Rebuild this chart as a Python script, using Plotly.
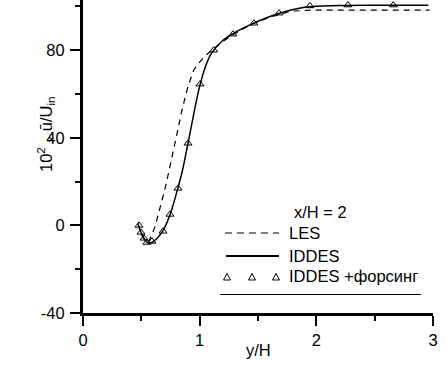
import plotly.graph_objects as go

# ---- data ----
les_x = [0.50, 0.53, 0.56, 0.59, 0.62, 0.66, 0.70, 0.75, 0.80, 0.85, 0.90, 0.95,
         1.00, 1.05, 1.10, 1.20, 1.30, 1.45, 1.60, 1.78, 1.97, 2.50, 2.97]
les_v = [-4.0, -7.0, -7.5, -4.5, 0.0, 7.5, 16.0, 28.0, 41.0, 53.0, 63.5, 71.0,
         74.5, 77.5, 79.8, 84.0, 87.5, 92.0, 95.0, 97.8, 98.3, 98.3, 98.3]

iddes_x = [0.47, 0.50, 0.53, 0.56, 0.60, 0.65, 0.70, 0.75, 0.80, 0.85, 0.90, 0.95,
           1.00, 1.05, 1.10, 1.20, 1.30, 1.45, 1.65, 1.90, 2.20, 2.60, 2.96]
iddes_v = [1.0, -3.5, -6.5, -8.0, -7.5, -5.0, -1.0, 5.5, 14.5, 24.5, 37.5, 51.0,
           63.5, 72.5, 78.5, 84.5, 88.0, 92.0, 96.3, 99.6, 100.4, 100.5, 100.5]

forc_x = [0.48, 0.497, 0.523, 0.548, 0.591, 0.686, 0.745, 0.814, 0.90, 1.003,
          1.12, 1.285, 1.465, 1.68, 1.945, 2.27, 2.66]
forc_v = [0.0, -3.2, -5.9, -7.8, -7.3, -2.7, 5.0, 16.9, 37.5, 64.5,
          80.0, 87.3, 92.3, 96.9, 100.2, 100.6, 100.6]

x_ticks = [0, 1, 2, 3]
y_ticks = [-40, 0, 40, 80]

FONT = "Liberation Sans, Arial, sans-serif"
FS = 16.5

# plot area in pixels
L, R, T, B = 83, 13, 0, 65
W, H = 446, 378
PW, PH = W - L - R, H - T - B


def px(x):
    return (x - L) / PW


def py(y):
    return (H - B - y) / PH


fig = go.Figure()
fig.add_trace(go.Scatter(x=les_x, y=les_v, mode="lines",
                         line=dict(color="black", width=1.2, dash="6px,5px"),
                         showlegend=False, name="LES"))
fig.add_trace(go.Scatter(x=iddes_x, y=iddes_v, mode="lines", line_shape="spline",
                         line=dict(color="black", width=1.5),
                         showlegend=False, name="IDDES"))
fig.add_trace(go.Scatter(x=forc_x, y=forc_v, mode="markers",
                         marker=dict(symbol="triangle-up-open", size=7,
                                     color="black", line=dict(width=1, color="black")),
                         cliponaxis=False, showlegend=False, name="IDDES +форсинг"))

shapes = []
annotations = []


def txt(s, x, y, anchor="left", angle=0, size=FS):
    annotations.append(dict(text=s, x=px(x), y=py(y), xref="paper", yref="paper",
                            showarrow=False, xanchor=anchor, yanchor="middle",
                            textangle=angle,
                            font=dict(size=size, family=FONT, color="black")))


# legend
txt("x/H = 2", 320, 212, "center")
shapes.append(dict(type="line", xref="paper", yref="paper", x0=px(225), x1=px(279),
                   y0=py(233), y1=py(233), line=dict(color="black", width=1.2, dash="7px,5px")))
txt("LES", 287, 233)
shapes.append(dict(type="line", xref="paper", yref="paper", x0=px(226), x1=px(279),
                   y0=py(256), y1=py(256), line=dict(color="black", width=2)))
txt("IDDES", 287, 255.5)
for cx in (227, 252, 276):
    cy = 277
    path = "M {} {} L {} {} L {} {} Z".format(px(cx - 3.5), py(cy + 3), px(cx + 3.5), py(cy + 3),
                                             px(cx), py(cy - 3.5))
    shapes.append(dict(type="path", xref="paper", yref="paper", path=path,
                       line=dict(color="black", width=1)))
txt("IDDES +форсинг", 287, 275.5)
shapes.append(dict(type="line", xref="paper", yref="paper", x0=px(220), x1=px(421),
                   y0=py(294.5), y1=py(294.5), line=dict(color="black", width=1)))

# axis titles
txt("10<sup>2</sup> <sub>×</sub> ū/U<sub>in</sub>", 46, 135, "center", -90)
txt("y/H", 258, 350, "center")

fig.update_layout(
    width=W, height=H,
    margin=dict(l=L, r=R, t=T, b=B, autoexpand=False),
    paper_bgcolor="white", plot_bgcolor="white",
    font=dict(family=FONT, size=FS, color="black"),
    shapes=shapes, annotations=annotations,
    showlegend=False,
)
fig.update_xaxes(range=[0, 3], tickvals=x_ticks, ticktext=[str(v) for v in x_ticks],
                 automargin=False, tickfont=dict(size=FS, family=FONT, color="black"),
                 showgrid=False, zeroline=False, showline=True, linecolor="black", linewidth=3,
                 ticks="outside", ticklen=10, tickwidth=2, tickcolor="black",
                 ticklabelstandoff=0,
                 minor=dict(ticks="outside", ticklen=5, tickwidth=2, tickcolor="black",
                            tickvals=[0.5, 1.5, 2.5], showgrid=False))
fig.update_yaxes(range=[-40, 102.9], tickvals=y_ticks, ticktext=[str(v) for v in y_ticks],
                 automargin=False, tickfont=dict(size=FS, family=FONT, color="black"),
                 showgrid=False, zeroline=False, showline=True, linecolor="black", linewidth=3,
                 ticks="outside", ticklen=10, tickwidth=2, tickcolor="black",
                 ticklabelstandoff=2,
                 minor=dict(ticks="outside", ticklen=5, tickwidth=2, tickcolor="black",
                            tickvals=[-20, 20, 60, 100], showgrid=False))

fig.write_html("out.html", config={"displayModeBar": False},
               post_script="document.body.style.margin='0px';document.body.style.padding='0px';")
